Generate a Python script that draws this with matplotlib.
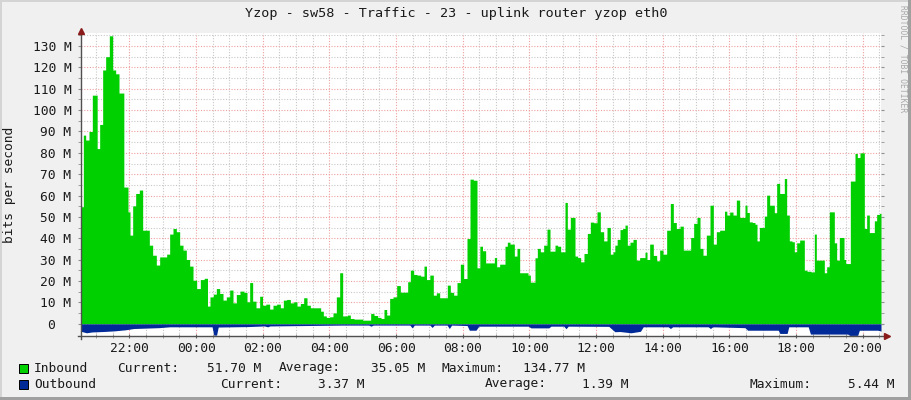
import matplotlib
matplotlib.use("Agg")
import matplotlib.pyplot as plt
from matplotlib.lines import Line2D
from matplotlib.patches import Rectangle
import numpy as np

# ---------------- data (minutes since 20:33, values in Mbit/s) ----------------
start_minute_of_day = 20 * 60 + 33

in_t = [0, 3, 5.4, 11.4, 17.4, 23.4, 27.6, 30.6, 36.6, 41.4, 47.4, 54.6, 59.4, 65.4, 71.4, 75.6,
        78.6, 83.4, 85.8, 90.6, 95.4, 101.4, 108.6, 113.4, 120.6, 125.4, 132.6, 138.6, 144.6,
        151.8, 156.6, 162.6, 168.6, 174.6, 180.6, 186.6, 192.6, 198.6, 204.6, 211.8, 217.8,
        225.6, 229.8, 234.6,
        235.8, 240.6, 246.6, 252.6, 258.6, 264.6, 270.6, 276.6, 282.6, 289.8, 297, 300.6, 306.6,
        311.4, 318.6, 324.6, 328.8, 336.6, 342.6, 348.6, 355.8, 361.8, 366.6, 373.8, 379.8,
        385.8, 391.8, 397.8, 403.8, 409.8, 415.8, 423, 429, 433.8, 438.6, 444.6, 450.6, 456.6,
        462.6, 468.6, 473.4,
        477, 481.8, 487.8, 495, 504, 510, 519, 523.8, 531, 537, 543, 547.8, 552.6, 558.6, 564.6,
        571.8, 577.8, 586.2, 589.8, 595.8, 601.8, 607.8, 615, 619.8, 624, 631.8, 636.6, 642.6,
        648.6, 657, 661.8, 667.8, 673.8, 679.8, 685.8, 691.8, 697.8, 702.6, 709.8, 715.8,
        720, 725.4, 731.4, 742.2, 745.8, 750.6, 756.6, 761.4, 765, 769.8, 774.6, 778.2, 781.8,
        787.8, 791.4, 802.2, 807, 810.6, 815.4, 819, 823.8, 829.8, 835.8, 841.8, 846.6, 851.4,
        855, 861, 865.8, 869.4, 873, 877.8, 883.8, 887.4, 891, 897, 901.8, 909, 913.8, 919.8,
        925.8, 931.8, 937.8, 943.8, 949.8, 955.8,
        959.4, 962.4, 967.8, 972.6, 977.4, 981, 985.8, 990.6, 996.6, 1002.6, 1008.6, 1013.4,
        1017, 1020.6, 1026.6, 1033.8, 1038.6, 1044.6, 1050.6, 1057.8, 1063.8, 1068.6, 1074.6,
        1081.8, 1086.6, 1095, 1099.8, 1105.8, 1111.8, 1116.6, 1122.6, 1128.6, 1135.8, 1140.6,
        1146.6, 1152.6, 1156.2, 1160.4, 1164.6, 1170.6, 1176.6, 1182.6, 1188.6, 1193.4, 1197,
        1200.6, 1205.4, 1211.4, 1215, 1218.6, 1223.4, 1228.2, 1231.8, 1236.6, 1242.6, 1246.2,
        1249.8, 1254.6, 1260.6, 1264.2, 1267.8, 1272.6, 1277.4, 1282.2, 1285.8, 1290.6, 1296.6,
        1300.2, 1303.8, 1309.8, 1318.2, 1321.8, 1325.4, 1336.2, 1339.8, 1344.6, 1349.4, 1354.2,
        1357.8, 1362.6, 1367.4, 1372.2, 1374.6, 1378.2, 1383, 1386.6, 1391.4, 1395, 1399.8,
        1404.6, 1408.2, 1411.8, 1416.6, 1421.4, 1426.2, 1429.8, 1434.6, 1440]

in_v = [54.8, 54.8, 88.3, 86, 90, 107, 107, 82, 93.3, 118.8, 125, 134.77, 118.8, 117, 108, 108,
        64, 64, 52.4, 41.5, 55.2, 61, 62.6, 43.8, 43.8, 36.8, 32.1, 27.5, 31.3,
        31.3, 32.6, 42, 44.6, 43.1, 36.8, 34.5, 30.1, 27, 20.4, 16.5, 20.7,
        21.3, 8.3, 12.6,
        12.6, 13.9, 16.5, 14.2, 11.1, 12.6, 15.8, 9.8, 13.7, 15.3, 14.7, 10.3, 19.3,
        10.6, 7.5, 12.9, 8.7, 9.2, 6.9, 8.7, 9.2, 7.5, 11.1, 11.4, 9.8,
        10.3, 8.3, 9.5, 12.2, 8.7, 7.5, 7.5, 7.5, 5.9, 3.7, 3.0, 3.3, 5.1,
        12.6, 23.9, 3.7,
        3.7, 4.1, 2.5, 2.2, 2.2, 1.7, 1.7, 4.8, 3.9, 3.0, 2.5, 6.7, 4.1, 11.9, 12.6,
        17.9, 14.8, 14.8, 19.7, 25.1, 23.1, 22.8, 22.3, 27, 20.7, 22.8, 13.4, 14.5,
        12.2, 12.2, 18.1, 14.7, 13.4, 19.3, 27.9, 21.2, 39.9, 67.7, 67.2, 26.2,
        36.3, 34.2, 28.5, 28.5, 31.0, 26.7, 27.9, 27.9, 36.3, 38.2, 37.3, 37.3, 31.7,
        35.3, 23.9, 23.9, 22.8, 19.5, 19.5, 30.9, 35.3, 33.7, 36.8, 44.3, 34, 34,
        36.8, 36.3, 33.7, 33.7, 56.8, 44.3, 49.8, 49.8, 31.7, 31, 29, 32.9, 42.3, 47.6,
        47.3, 52.4, 43.1, 38.8, 45.1, 32.6,
        33.7, 36.8, 39.5, 44.1, 44.6, 46.2, 36.8, 38.2, 39.5, 29.8, 31, 31,
        33.5, 30.1, 37.3, 32, 29.5, 34.5, 32.6, 43.8, 56.3, 47.4, 44.6,
        45.7, 34.5, 34.5, 40.4, 47, 49.8, 35.3, 32.1, 41.5, 55.5, 37.3,
        43.1, 43.8, 43.8, 52.7, 50.9, 52.3, 50.9, 57.9, 49.8, 49.8, 55.5,
        52.1, 47.7, 47.4, 46.6, 38.8, 45.1, 45.1, 50.4, 60.2, 55.5, 55.5,
        52, 65.7, 61, 61, 68, 50.9, 38.8, 38.4, 33.7, 37.9, 39.2,
        39.2, 25.1, 24.6, 24.3, 42, 29.8, 29.8, 23.9, 26.7, 52.4, 52.4,
        37.9, 29.8, 40.4, 40.4, 30.1, 28.2, 28.2, 66.8, 66.8, 79.7, 77.8,
        80, 80, 44.6, 50.9, 42.7, 42.7, 48.2, 51.2, 51.7]

out_t = [0, 10, 20, 40, 60, 80, 95, 140, 160, 236, 239, 244, 247, 300, 330, 336, 340, 470, 518,
         522, 526, 592, 596, 600, 628, 632, 636, 659, 663, 667, 695, 699, 711, 716, 805, 810,
         842, 846, 869, 873, 877, 950, 961, 970, 990, 1007, 1012, 1057, 1061, 1065, 1129, 1133,
         1137, 1195, 1200, 1255, 1258, 1271, 1274, 1309, 1313, 1380, 1384, 1398, 1401, 1434, 1440]
out_v = [3.5, 4.2, 3.8, 3.6, 3.3, 2.8, 2.2, 1.8, 1.4, 1.4, 5.3, 5.3, 1.5, 1.3, 1.0, 1.4, 1.0, 0.6, 0.6,
         1.1, 0.6, 0.6, 1.9, 0.6, 0.6, 1.7, 0.6, 0.6, 2.2, 0.6, 0.8, 3.0, 3.0, 1.1, 1.1, 1.9,
         1.9, 1.1, 1.1, 2.3, 1.1, 1.2, 3.7, 3.6, 4.2, 3.5, 1.4, 1.4, 2.2, 1.4, 1.4, 2.2,
         1.4, 1.8, 3.0, 3.0, 4.5, 4.5, 1.4, 1.4, 4.8, 4.8, 5.44, 5.4, 3.0, 3.0, 3.37]

title = "Yzop - sw58 - Traffic - 23 - uplink router yzop eth0"
y_label = "bits per second"
legend_rows = [
    ("Inbound", "#00CF00", [("Current:", "51.70 M"), ("Average:", "35.05 M"), ("Maximum:", "134.77 M")]),
    ("Outbound", "#002A97", [("Current:", "3.37 M"), ("Average:", "1.39 M"), ("Maximum:", "5.44 M")]),
]

# ---------------- figure ----------------
W, H = 911, 400
fig = plt.figure(figsize=(W / 100, H / 100), dpi=100)
fig.patch.set_facecolor("#F0F0F0")
MONO = "DejaVu Sans Mono"
FS = 9.3

def px(x, y):
    return x / W, 1 - y / H

ax = fig.add_axes([81 / W, (H - 336) / H, 800 / W, 302.8 / H])
ax.set_facecolor("white")
ax.set_xlim(0, 1440)
ax.set_ylim(-5.7, 136)

t_in = np.array(in_t)
v_in = np.array(in_v)
t_out = np.array(out_t)
v_out = np.array(out_v)
ax.fill_between(t_in, 0, v_in, color="#00CF00", lw=0, zorder=3, step="mid")
ax.fill_between(t_out, 0, -v_out, color="#002A97", lw=0, zorder=3)

# x ticks: major every 2h at even hours, minor every 30 min
first_major = (22 * 60) - start_minute_of_day
majors = np.arange(first_major, 1441, 120)
minors = np.arange((30 - start_minute_of_day % 30) % 30, 1441, 30)
ax.set_xticks(majors)
ax.set_xticklabels([f"{((start_minute_of_day + m) // 60) % 24:02d}:00" for m in majors],
                   family=MONO, fontsize=FS)
ax.set_xticks(minors, minor=True)

yt = np.arange(0, 131, 10)
ax.set_yticks(yt)
ax.set_yticklabels([f"{v} M" if v else "0  " for v in yt], family=MONO, fontsize=FS)
ax.set_yticks(np.arange(5, 136, 10), minor=True)

ax.grid(which="minor", color="#C8C8C8", linestyle=(0, (1, 1.5)), lw=0.8, zorder=1)
ax.grid(which="major", color="#F0A0A0", linestyle=(0, (1, 1.5)), lw=0.8, zorder=2)
ax.set_axisbelow(True)

ax.tick_params(axis="x", which="major", length=3, direction="inout", color="#606060", pad=3,
               labelcolor="#1a1a1a")
ax.tick_params(axis="x", which="minor", length=3, direction="inout", color="#909090")
ax.tick_params(axis="y", which="both", length=2, direction="out", color="#909090", pad=5,
               labelcolor="#1a1a1a", right=True)
for s in ax.spines.values():
    s.set_visible(False)

# axis lines with arrows
ax.add_line(Line2D([0, 0], [-0.01, 1.0], transform=ax.transAxes, color="#505050", lw=1,
                   clip_on=False, zorder=5))
ax.add_line(Line2D([-0.004, 1.0075], [0, 0], transform=ax.transAxes, color="#505050", lw=1,
                   clip_on=False, zorder=5))
ax.plot([0], [1.006], marker="^", ms=5, color="#8B1A1A", transform=ax.transAxes,
        clip_on=False, zorder=6)
ax.plot([1.008], [0], marker=">", ms=5, color="#8B1A1A", transform=ax.transAxes,
        clip_on=False, zorder=6)

# title, y label, watermark
fig.text(*px(456, 14), title, family=MONO, fontsize=FS + 0.4, ha="center", va="center",
         color="#1a1a1a")
fig.text(*px(10, 185), y_label, family=MONO, fontsize=FS, rotation=90, ha="center",
         va="center", color="#1a1a1a")
fig.text(*px(903, 5), "RRDTOOL / TOBI OETIKER", family=MONO, fontsize=5.8, rotation=270,
         ha="center", va="top", color="#A8A8A8")

# legend
row_y = [368, 384]
label_x = [[117, 279, 441], [220, 485, 750]]
value_right = [[261, 425, 585], [364, 629, 894]]
for r, (name, col, stats) in enumerate(legend_rows):
    y = row_y[r]
    fig.patches.append(Rectangle(px(19, y + 5), 9 / W, 9 / H, transform=fig.transFigure,
                                 facecolor=col, edgecolor="black", lw=0.7))
    fig.text(*px(34, y), name, family=MONO, fontsize=FS, va="center", color="#1a1a1a")
    for k, (lab, val) in enumerate(stats):
        fig.text(*px(label_x[r][k], y), lab, family=MONO, fontsize=FS, va="center",
                 color="#1a1a1a")
        fig.text(*px(value_right[r][k], y), val, family=MONO, fontsize=FS, va="center",
                 ha="right", color="#1a1a1a")

# 3D frame
fig.patches.append(Rectangle((0, 1 - 2 / H), 1, 2 / H, transform=fig.transFigure,
                             facecolor="#D4D4D4", lw=0))
fig.patches.append(Rectangle((0, 0), 2 / W, 1, transform=fig.transFigure,
                             facecolor="#D4D4D4", lw=0))
fig.patches.append(Rectangle((1 - 3 / W, 0), 3 / W, 1, transform=fig.transFigure,
                             facecolor="#A0A0A0", lw=0))
fig.patches.append(Rectangle((0, 0), 1, 3 / H, transform=fig.transFigure,
                             facecolor="#A0A0A0", lw=0))

fig.savefig("out.png", dpi=100, facecolor=fig.get_facecolor())
